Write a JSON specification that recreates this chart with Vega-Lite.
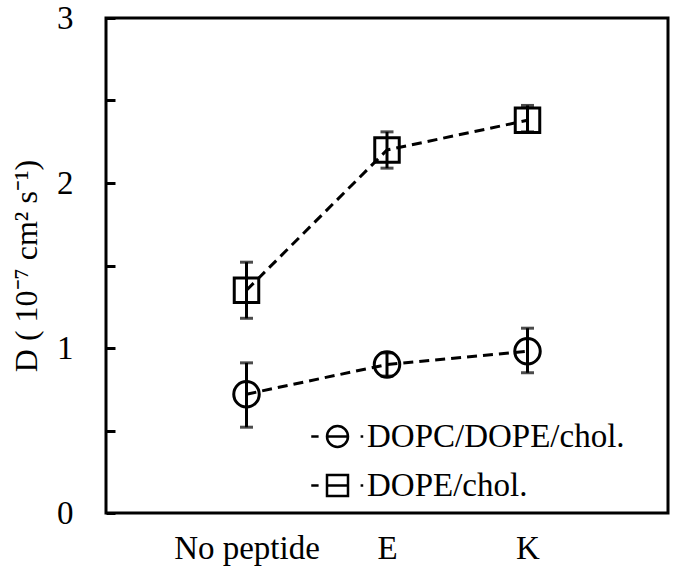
{
  "$schema": "https://vega.github.io/schema/vega-lite/v6.json",
  "autosize": "none",
  "width": 562,
  "height": 495,
  "padding": {"left": 106, "top": 18, "right": 7, "bottom": 63},
  "background": "white",
  "config": {
    "view": {"stroke": "black", "strokeWidth": 3},
    "font": "Times New Roman, Liberation Serif, serif",
    "style": {"guide-label": {"font": "Times New Roman, Liberation Serif, serif"}, "guide-title": {"font": "Times New Roman, Liberation Serif, serif"}},
    "axis": {"labelFont": "Times New Roman, Liberation Serif, serif", "titleFont": "Times New Roman, Liberation Serif, serif", "labelColor": "black", "titleColor": "black", "grid": false, "domainColor": "black", "domainWidth": 3, "tickColor": "black", "tickWidth": 3},
    "legend": {"labelFont": "Times New Roman, Liberation Serif, serif"}
  },
  "data": {
    "values": [
      {"peptide": "No peptide", "series": "DOPC/DOPE/chol.", "D": 0.72, "lo": 0.52, "hi": 0.91},
      {"peptide": "E", "series": "DOPC/DOPE/chol.", "D": 0.90, "lo": 0.83, "hi": 0.97},
      {"peptide": "K", "series": "DOPC/DOPE/chol.", "D": 0.98, "lo": 0.85, "hi": 1.12},
      {"peptide": "No peptide", "series": "DOPE/chol.", "D": 1.35, "lo": 1.18, "hi": 1.52},
      {"peptide": "E", "series": "DOPE/chol.", "D": 2.20, "lo": 2.09, "hi": 2.31},
      {"peptide": "K", "series": "DOPE/chol.", "D": 2.38, "lo": 2.31, "hi": 2.47}
    ]
  },
  "encoding": {
    "x": {"field": "peptide", "type": "nominal", "sort": ["No peptide", "E", "K"],
      "scale": {"type": "point", "padding": 1},
      "axis": {"title": null, "ticks": false, "domain": false, "labelAngle": 0, "labelFont": "Times New Roman, Liberation Serif, serif", "labelFontSize": 33, "labelPadding": 19}},
    "y": {"field": "D", "type": "quantitative",
      "scale": {"domain": [0, 3], "nice": false, "zero": true},
      "axis": {"title": "D ( 10⁻⁷ cm² s⁻¹)", "titleFont": "Times New Roman, Liberation Serif, serif", "titleFontSize": 32, "titleFontWeight": "normal", "titlePadding": 13,
        "values": [0, 0.5, 1, 1.5, 2, 2.5, 3],
        "labelExpr": "datum.value % 1 === 0 ? format(datum.value, 'd') : ''",
        "labelFont": "Times New Roman, Liberation Serif, serif",
        "labelFontSize": 33, "tickSize": -9, "labelPadding": 42, "domain": false}}
  },
  "layer": [
    {
      "mark": {"type": "line", "color": "black", "strokeWidth": 3, "strokeDash": [10, 6]},
      "encoding": {"detail": {"field": "series"}}
    },
    {
      "mark": {"type": "errorbar", "color": "black", "thickness": 3, "ticks": {"size": 13, "thickness": 3, "color": "black"}},
      "encoding": {"y": {"field": "lo", "type": "quantitative"}, "y2": {"field": "hi"}, "detail": {"field": "series"}}
    },
    {
      "transform": [{"filter": "datum.series === 'DOPC/DOPE/chol.'"}],
      "mark": {"type": "point", "shape": "circle", "filled": false, "color": "black", "opacity": 1, "strokeWidth": 3, "size": 650}
    },
    {
      "transform": [{"filter": "datum.series === 'DOPE/chol.'"}],
      "mark": {"type": "point", "shape": "square", "filled": false, "color": "black", "opacity": 1, "strokeWidth": 3, "size": 600}
    },
    {
      "transform": [{"filter": "false"}],
      "mark": {"type": "point", "filled": false, "color": "black", "opacity": 1, "strokeWidth": 2.5, "size": 441},
      "encoding": {
        "shape": {"field": "series", "type": "nominal",
          "scale": {"domain": ["DOPC/DOPE/chol.", "DOPE/chol."],
            "range": ["M 1 0 A 1 1 0 1 1 -1 0 A 1 1 0 1 1 1 0 Z M -1 0 L 1 0 M -2.5 0 L -1.8 0 M 2.2 0 L 2.45 0",
                      "M -1 -1 L 1 -1 L 1 1 L -1 1 Z M -1 0 L 1 0 M -2.5 0 L -1.8 0 M 2.2 0 L 2.45 0"]},
          "legend": {"title": null, "orient": "none", "legendX": 215, "legendY": 402, "padding": 0,
            "labelFont": "Times New Roman, Liberation Serif, serif", "labelFontSize": 33, "labelColor": "black", "labelLimit": 400,
            "symbolSize": 441, "symbolStrokeWidth": 2.5, "symbolStrokeColor": "black", "symbolOpacity": 1,
            "labelOffset": 13, "rowPadding": 15}}
      }
    }
  ]
}
